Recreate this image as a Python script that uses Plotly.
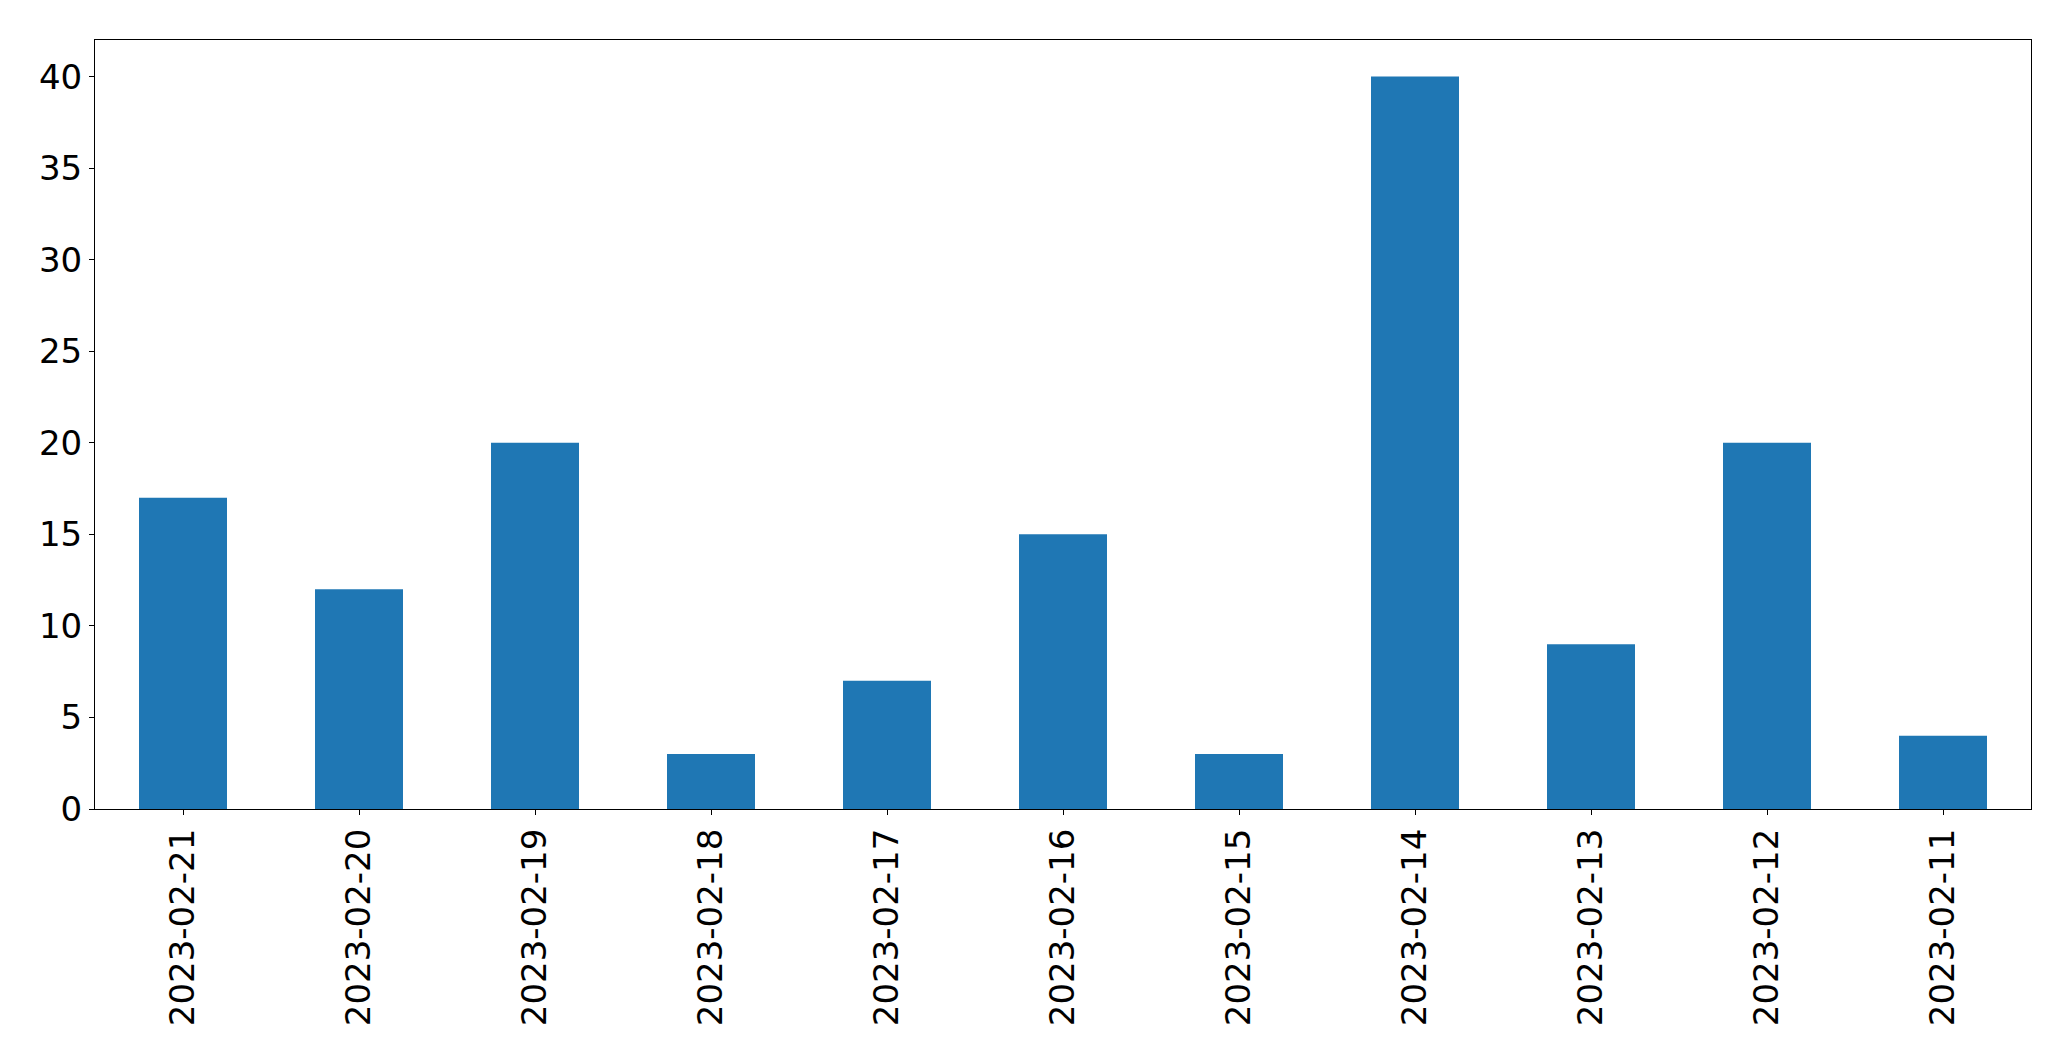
import plotly.graph_objects as go

dates = ["2023-02-21", "2023-02-20", "2023-02-19", "2023-02-18", "2023-02-17",
         "2023-02-16", "2023-02-15", "2023-02-14", "2023-02-13", "2023-02-12", "2023-02-11"]
counts = [17, 12, 20, 3, 7, 15, 3, 40, 9, 20, 4]
y_ticks = [0, 5, 10, 15, 20, 25, 30, 35, 40]

fig = go.Figure(go.Bar(x=dates, y=counts, marker=dict(color="#1f77b4", line=dict(width=0))))

axis_common = dict(showgrid=False, zeroline=False, showline=True, linecolor="black",
                   linewidth=1.1, mirror=True, ticks="outside", ticklen=5, tickwidth=1.1,
                   tickcolor="black", automargin=False,
                   tickfont=dict(family="DejaVu Sans", size=34, color="black"))

# page body has an 8px margin; compensate so plot area lands at the same pixels
fig.update_layout(
    width=2063, height=1053,
    margin=dict(l=86.5, r=39.5, t=31.5, b=252),
    plot_bgcolor="white", paper_bgcolor="white",
    bargap=0.5, showlegend=False,
    xaxis=dict(type="category", tickangle=-90, range=[-0.5, 10.5], **axis_common),
    yaxis=dict(range=[0, 42], tickvals=y_ticks, **axis_common),
)

fig.write_html("out.html")
